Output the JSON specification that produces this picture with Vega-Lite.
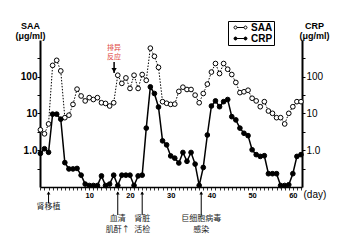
{
  "$schema": "https://vega.github.io/schema/vega-lite/v6.json",
  "width": 262,
  "height": 147,
  "autosize": {"type": "none"},
  "padding": {"left": 40, "top": 40, "right": 39, "bottom": 54},
  "background": "white",
  "config": {"view": {"stroke": null}, "font": "Liberation Sans"},
  "datasets": {
    "series": [
      {"day": -2, "series": "SAA", "value": 3.6},
      {"day": -1, "series": "SAA", "value": 2.8},
      {"day": 0, "series": "SAA", "value": 5.2},
      {"day": 1, "series": "SAA", "value": 204},
      {"day": 2, "series": "SAA", "value": 280},
      {"day": 3, "series": "SAA", "value": 144},
      {"day": 4, "series": "SAA", "value": 7.7},
      {"day": 5, "series": "SAA", "value": 9},
      {"day": 6, "series": "SAA", "value": 17.7},
      {"day": 7, "series": "SAA", "value": 46},
      {"day": 8, "series": "SAA", "value": 30},
      {"day": 9, "series": "SAA", "value": 22},
      {"day": 10, "series": "SAA", "value": 27},
      {"day": 11, "series": "SAA", "value": 24},
      {"day": 12, "series": "SAA", "value": 27},
      {"day": 13, "series": "SAA", "value": 19.6},
      {"day": 14, "series": "SAA", "value": 18.8},
      {"day": 15, "series": "SAA", "value": 16},
      {"day": 16, "series": "SAA", "value": 19.6},
      {"day": 17, "series": "SAA", "value": 110},
      {"day": 18, "series": "SAA", "value": 66},
      {"day": 19, "series": "SAA", "value": 93},
      {"day": 20, "series": "SAA", "value": 48},
      {"day": 21, "series": "SAA", "value": 110},
      {"day": 22, "series": "SAA", "value": 48},
      {"day": 23, "series": "SAA", "value": 115},
      {"day": 24, "series": "SAA", "value": 80},
      {"day": 25, "series": "SAA", "value": 600},
      {"day": 26, "series": "SAA", "value": 360},
      {"day": 27, "series": "SAA", "value": 180},
      {"day": 28, "series": "SAA", "value": 21},
      {"day": 29, "series": "SAA", "value": 19},
      {"day": 30, "series": "SAA", "value": 17.7},
      {"day": 31, "series": "SAA", "value": 18},
      {"day": 32, "series": "SAA", "value": 40},
      {"day": 33, "series": "SAA", "value": 52},
      {"day": 34, "series": "SAA", "value": 45},
      {"day": 35, "series": "SAA", "value": 45},
      {"day": 36, "series": "SAA", "value": 31.6},
      {"day": 37, "series": "SAA", "value": 19.6},
      {"day": 38, "series": "SAA", "value": 35},
      {"day": 39, "series": "SAA", "value": 63},
      {"day": 40, "series": "SAA", "value": 134},
      {"day": 41, "series": "SAA", "value": 229},
      {"day": 42, "series": "SAA", "value": 122},
      {"day": 43, "series": "SAA", "value": 229},
      {"day": 44, "series": "SAA", "value": 160},
      {"day": 45, "series": "SAA", "value": 115},
      {"day": 46, "series": "SAA", "value": 70},
      {"day": 47, "series": "SAA", "value": 37},
      {"day": 48, "series": "SAA", "value": 39},
      {"day": 49, "series": "SAA", "value": 43},
      {"day": 50, "series": "SAA", "value": 26},
      {"day": 51, "series": "SAA", "value": 22},
      {"day": 52, "series": "SAA", "value": 15.3},
      {"day": 53, "series": "SAA", "value": 21},
      {"day": 54, "series": "SAA", "value": 11.7},
      {"day": 55, "series": "SAA", "value": 10.1},
      {"day": 56, "series": "SAA", "value": 7.7},
      {"day": 57, "series": "SAA", "value": 7.7},
      {"day": 58, "series": "SAA", "value": 5.2},
      {"day": 59, "series": "SAA", "value": 10.1},
      {"day": 60, "series": "SAA", "value": 15.3},
      {"day": 61, "series": "SAA", "value": 21},
      {"day": 62, "series": "SAA", "value": 21},
      {"day": -2, "series": "CRP", "value": 0.82},
      {"day": -1, "series": "CRP", "value": 1.1},
      {"day": 0, "series": "CRP", "value": 0.88},
      {"day": 1, "series": "CRP", "value": 9.6},
      {"day": 2, "series": "CRP", "value": 9.6},
      {"day": 3, "series": "CRP", "value": 7},
      {"day": 4, "series": "CRP", "value": 0.46},
      {"day": 5, "series": "CRP", "value": 0.31},
      {"day": 6, "series": "CRP", "value": 0.31},
      {"day": 7, "series": "CRP", "value": 0.32},
      {"day": 8, "series": "CRP", "value": 0.21},
      {"day": 9, "series": "CRP", "value": 0.12},
      {"day": 10, "series": "CRP", "value": 0.11},
      {"day": 11, "series": "CRP", "value": 0.11},
      {"day": 12, "series": "CRP", "value": 0.11},
      {"day": 13, "series": "CRP", "value": 0.2},
      {"day": 14, "series": "CRP", "value": 0.11},
      {"day": 15, "series": "CRP", "value": 0.12},
      {"day": 16, "series": "CRP", "value": 0.21},
      {"day": 17, "series": "CRP", "value": 0.11},
      {"day": 18, "series": "CRP", "value": 0.21},
      {"day": 19, "series": "CRP", "value": 0.21},
      {"day": 20, "series": "CRP", "value": 0.21},
      {"day": 21, "series": "CRP", "value": 0.11},
      {"day": 22, "series": "CRP", "value": 0.2},
      {"day": 23, "series": "CRP", "value": 0.21},
      {"day": 24, "series": "CRP", "value": 4},
      {"day": 25, "series": "CRP", "value": 53},
      {"day": 26, "series": "CRP", "value": 35},
      {"day": 27, "series": "CRP", "value": 15},
      {"day": 28, "series": "CRP", "value": 1.8},
      {"day": 29, "series": "CRP", "value": 1.4},
      {"day": 30, "series": "CRP", "value": 0.7},
      {"day": 31, "series": "CRP", "value": 0.61},
      {"day": 32, "series": "CRP", "value": 0.45},
      {"day": 33, "series": "CRP", "value": 0.87},
      {"day": 34, "series": "CRP", "value": 0.5},
      {"day": 35, "series": "CRP", "value": 0.87},
      {"day": 36, "series": "CRP", "value": 0.42},
      {"day": 37, "series": "CRP", "value": 0.11},
      {"day": 38, "series": "CRP", "value": 0.34},
      {"day": 39, "series": "CRP", "value": 2.6},
      {"day": 40, "series": "CRP", "value": 16},
      {"day": 41, "series": "CRP", "value": 22},
      {"day": 42, "series": "CRP", "value": 15.3},
      {"day": 43, "series": "CRP", "value": 21},
      {"day": 44, "series": "CRP", "value": 24},
      {"day": 45, "series": "CRP", "value": 8.2},
      {"day": 46, "series": "CRP", "value": 6.7},
      {"day": 47, "series": "CRP", "value": 4},
      {"day": 48, "series": "CRP", "value": 2.9},
      {"day": 49, "series": "CRP", "value": 2.5},
      {"day": 50, "series": "CRP", "value": 1.03},
      {"day": 51, "series": "CRP", "value": 0.76},
      {"day": 52, "series": "CRP", "value": 0.68},
      {"day": 53, "series": "CRP", "value": 0.71},
      {"day": 54, "series": "CRP", "value": 0.23},
      {"day": 55, "series": "CRP", "value": 0.23},
      {"day": 56, "series": "CRP", "value": 0.23},
      {"day": 57, "series": "CRP", "value": 0.11},
      {"day": 58, "series": "CRP", "value": 0.11},
      {"day": 59, "series": "CRP", "value": 0.115},
      {"day": 60, "series": "CRP", "value": 0.23},
      {"day": 61, "series": "CRP", "value": 0.68},
      {"day": 62, "series": "CRP", "value": 0.76}
    ],
    "notes": [
      {"day": 0, "label": ["肾移植"], "kind": "short"},
      {"day": 17, "label": ["血清", "肌酐↑"], "kind": "long"},
      {"day": 23, "label": ["肾脏", "活检"], "kind": "long"},
      {"day": 37.5, "label": ["巨细胞病毒", "感染"], "kind": "long"}
    ],
    "reject": [
      {"day": 16.1, "top": 780, "from": 252, "to": 126, "head": 150, "label": ["排异", "反应"]}
    ]
  },
  "resolve": {"axis": {"y": "independent"}},
  "layer": [
    {
      "mark": {"type": "rule", "color": "#444", "strokeWidth": 1},
      "encoding": {
        "y": {
          "datum": 1, "type": "quantitative",
          "scale": {"type": "log", "domain": [0.1, 1000]},
          "axis": {
            "orient": "left",
            "values": [0.3162, 1, 3.162, 10, 31.62, 100, 316.2],
            "labelExpr": "datum.value == 1 ? '1.0' : datum.value == 10 ? '10' : datum.value == 100 ? '100' : ''",
            "grid": false, "domainColor": "black", "domainWidth": 2,
            "tickColor": "black", "tickSize": 3, "tickWidth": 1,
            "labelPadding": 0, "labelFontSize": 10, "labelFontWeight": "bold",
            "labelColor": "black", "labelFont": "Liberation Sans", "labelOverlap": false,
            "title": ["SAA", "(μg/ml)"], "titleAngle": 0, "titleAlign": "center",
            "titleBaseline": "top", "titleX": -10, "titleY": -19,
            "titleFontSize": 9, "titleFontWeight": "bold", "titleLineHeight": 10,
            "titleColor": "black", "titleFont": "Liberation Sans"
          }
        }
      }
    },
    {
      "mark": {"type": "rule", "color": "black", "strokeWidth": 1, "strokeDash": [2, 2]},
      "encoding": {
        "y": {
          "datum": 15, "type": "quantitative",
          "axis": {
            "orient": "right",
            "values": [0.3162, 1, 3.162, 10, 31.62, 100, 316.2],
            "labelExpr": "datum.value == 1 ? '1.0' : datum.value == 10 ? '10' : datum.value == 100 ? '100' : ''",
            "grid": false, "domainColor": "black", "domainWidth": 2,
            "tickColor": "black", "tickSize": 3, "tickWidth": 1,
            "labelPadding": 1, "labelFontSize": 10,
            "labelColor": "black", "labelFont": "Liberation Sans", "labelOverlap": false,
            "title": ["CRP", "(μg/ml)"], "titleAngle": 0, "titleAlign": "center",
            "titleBaseline": "top", "titleX": 12, "titleY": -19,
            "titleFontSize": 9, "titleFontWeight": "bold", "titleLineHeight": 10,
            "titleColor": "black", "titleFont": "Liberation Sans"
          }
        }
      }
    },
    {
      "data": {"name": "series"},
      "transform": [{"filter": "datum.series === 'SAA'"}],
      "mark": {"type": "line", "color": "black", "strokeWidth": 1, "strokeDash": [1.5, 1.5]},
      "encoding": {
        "x": {
          "field": "day", "type": "quantitative",
          "scale": {"domain": [-2.1, 62.25], "nice": false, "zero": false},
          "axis": {
            "tickCount": 65,
            "values": [-2,-1,0,1,2,3,4,5,6,7,8,9,10,11,12,13,14,15,16,17,18,19,20,21,22,23,24,25,26,27,28,29,30,31,32,33,34,35,36,37,38,39,40,41,42,43,44,45,46,47,48,49,50,51,52,53,54,55,56,57,58,59,60,61,62],
            "labelExpr": "(datum.value % 10 === 0 && datum.value > 0) ? ('' + datum.value) : ''",
            "labelOverlap": false, "labelFlush": false, "labelBound": false, "grid": false,
            "domainColor": "black", "domainWidth": 1.5,
            "tickColor": "black", "tickSize": 3, "tickWidth": 0.8,
            "labelPadding": 1, "labelFontSize": 7.5, "labelFontWeight": "bold",
            "labelColor": "black", "labelFont": "Liberation Sans",
            "title": "(day)", "titleX": 263, "titleY": 7, "titleAlign": "left",
            "titleBaseline": "middle", "titleAngle": 0, "titleFontSize": 10,
            "titleFontWeight": "normal", "titleColor": "black", "titleFont": "Liberation Sans"
          }
        },
        "y": {"field": "value", "type": "quantitative", "axis": null}
      }
    },
    {
      "data": {"name": "series"},
      "transform": [{"filter": "datum.series === 'CRP'"}],
      "mark": {"type": "line", "color": "black", "strokeWidth": 1.5},
      "encoding": {
        "x": {"field": "day", "type": "quantitative"},
        "y": {"field": "value", "type": "quantitative", "axis": null}
      }
    },
    {
      "data": {"name": "series"},
      "mark": {"type": "point", "shape": "circle", "size": 22, "filled": true, "stroke": "black", "strokeWidth": 1, "opacity": 1},
      "encoding": {
        "x": {"field": "day", "type": "quantitative"},
        "y": {"field": "value", "type": "quantitative", "axis": null},
        "fill": {
          "field": "series", "type": "nominal",
          "scale": {"domain": ["SAA", "CRP"], "range": ["white", "black"]},
          "legend": {
            "orient": "none", "legendX": 188, "legendY": -19,
            "title": null, "strokeColor": "black", "padding": 1,
            "symbolOffset": 6,
            "symbolType": "M-1.3,0A0.3,0.3,0,1,1,-0.7,0A0.3,0.3,0,1,1,-1.3,0ZM-0.7,0L0.7,0M0.7,0A0.3,0.3,0,1,1,1.3,0A0.3,0.3,0,1,1,0.7,0Z",
            "symbolSize": 100, "symbolStrokeColor": "black", "symbolStrokeWidth": 1,
            "labelFont": "Liberation Sans", "labelFontSize": 10, "labelFontWeight": "bold",
            "labelColor": "black", "labelOffset": 5, "rowPadding": 0,
            "encode": {
              "symbols": {"update": {"stroke": {"value": "black"}, "strokeDash": {"signal": "datum.value === 'SAA' ? [1.2, 1.2] : []"}}}
            }
          }
        }
      }
    },
    {
      "data": {"name": "notes"},
      "transform": [{"filter": "datum.kind === 'long'"}],
      "mark": {"type": "rule", "color": "black", "strokeWidth": 1, "yOffset": 5, "y2Offset": 28},
      "encoding": {
        "x": {"field": "day", "type": "quantitative"},
        "y": {"datum": 0.1, "type": "quantitative", "axis": null},
        "y2": {"datum": 0.1}
      }
    },
    {
      "data": {"name": "notes"},
      "transform": [{"filter": "datum.kind === 'short'"}],
      "mark": {"type": "rule", "color": "black", "strokeWidth": 1, "yOffset": 5, "y2Offset": 16},
      "encoding": {
        "x": {"field": "day", "type": "quantitative"},
        "y": {"datum": 0.1, "type": "quantitative", "axis": null},
        "y2": {"datum": 0.1}
      }
    },
    {
      "data": {"name": "notes"},
      "mark": {"type": "point", "shape": "triangle-up", "size": 14, "filled": true, "color": "black", "opacity": 1, "yOffset": 6},
      "encoding": {
        "x": {"field": "day", "type": "quantitative"},
        "y": {"datum": 0.1, "type": "quantitative", "axis": null}
      }
    },
    {
      "data": {"name": "notes"},
      "transform": [{"filter": "datum.kind === 'long'"}],
      "mark": {"type": "text", "font": "Noto Sans CJK SC", "fontSize": 8, "lineHeight": 11, "baseline": "top", "align": "center", "dy": 28, "color": "#222"},
      "encoding": {
        "x": {"field": "day", "type": "quantitative"},
        "y": {"datum": 0.1, "type": "quantitative", "axis": null},
        "text": {"field": "label"}
      }
    },
    {
      "data": {"name": "notes"},
      "transform": [{"filter": "datum.kind === 'short'"}],
      "mark": {"type": "text", "font": "Noto Sans CJK SC", "fontSize": 8, "lineHeight": 11, "baseline": "top", "align": "center", "dy": 16, "color": "#222"},
      "encoding": {
        "x": {"field": "day", "type": "quantitative"},
        "y": {"datum": 0.1, "type": "quantitative", "axis": null},
        "text": {"field": "label"}
      }
    },
    {
      "data": {"name": "reject"},
      "mark": {"type": "text", "font": "Noto Sans CJK SC", "fontSize": 7, "lineHeight": 9, "baseline": "top", "align": "center", "color": "#e0453c"},
      "encoding": {
        "x": {"field": "day", "type": "quantitative"},
        "y": {"field": "top", "type": "quantitative", "axis": null},
        "text": {"field": "label"}
      }
    },
    {
      "data": {"name": "reject"},
      "mark": {"type": "rule", "color": "black", "strokeWidth": 1.5},
      "encoding": {
        "x": {"field": "day", "type": "quantitative"},
        "y": {"field": "from", "type": "quantitative", "axis": null},
        "y2": {"field": "to"}
      }
    },
    {
      "data": {"name": "reject"},
      "mark": {"type": "point", "shape": "triangle-down", "size": 28, "filled": true, "color": "black", "opacity": 1},
      "encoding": {
        "x": {"field": "day", "type": "quantitative"},
        "y": {"field": "head", "type": "quantitative", "axis": null}
      }
    }
  ]
}
